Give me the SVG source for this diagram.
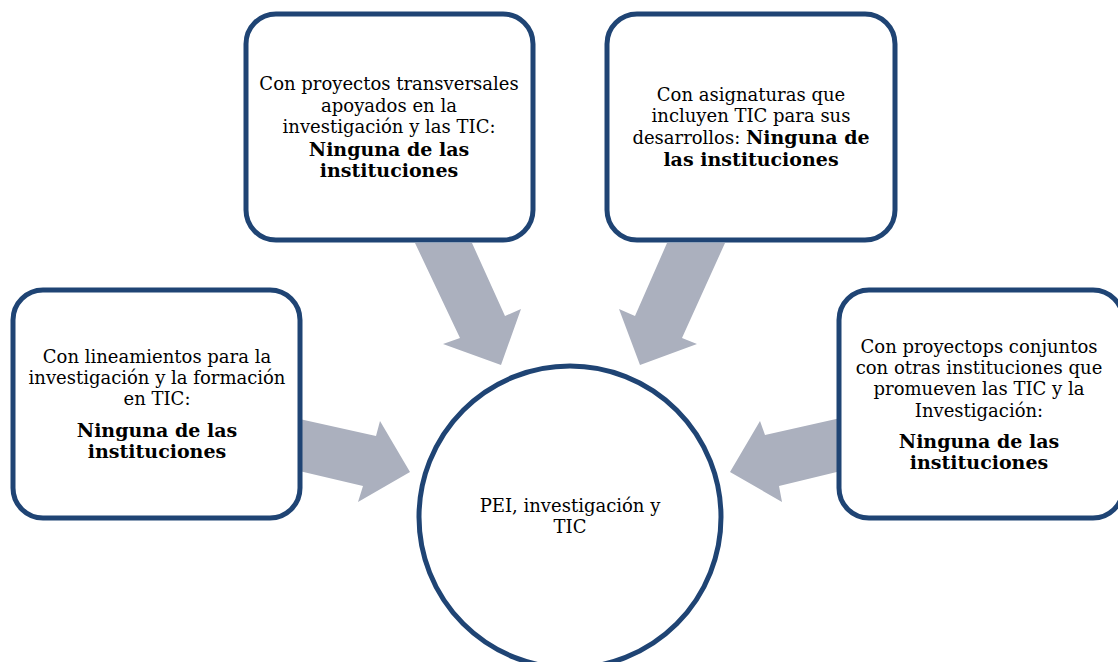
<svg xmlns="http://www.w3.org/2000/svg" width="1118" height="662" viewBox="0 0 1118 662">
<style>
.box{fill:#fff;stroke:#1f4474;stroke-width:5}
.arr{fill:#abb0be}
text{font-family:"DejaVu Serif","Liberation Serif",serif;font-size:18px;fill:#000;text-anchor:middle}
.b{font-weight:bold;font-size:19px}
</style>
<rect width="1118" height="662" fill="#fff"/>
<g id="connectors">
<polygon class="arr" points="415,243 472,243 505,316 521,309 501,365 443,344 460,338"/>
<polygon class="arr" points="725,243 667,243 635,316 619,309 640,365 697,344 682,338"/>
<polygon class="arr" points="295,418 376,436 380,421 410,472 358,502 363,486 295,470"/>
<polygon class="arr" points="845,417 765,435 760,421 730,472 782,502 779,486 845,470"/>
</g>
<g id="node-top-left">
<rect class="box" x="246" y="14" width="287" height="226" rx="30"/>
<text x="389" y="90">Con proyectos transversales</text>
<text x="389" y="112">apoyados en la</text>
<text x="389" y="133">investigación y las TIC:</text>
<text x="389" y="156" class="b">Ninguna de las</text>
<text x="389" y="177" class="b">instituciones</text>
</g>
<g id="node-top-right">
<rect class="box" x="607" y="14" width="288" height="226" rx="30"/>
<text x="751" y="101">Con asignaturas que</text>
<text x="751" y="122">incluyen TIC para sus</text>
<text x="751" y="144">desarrollos: <tspan class="b">Ninguna de</tspan></text>
<text x="751" y="166" class="b">las instituciones</text>
</g>
<g id="node-left">
<rect class="box" x="13" y="290" width="287" height="228" rx="30"/>
<text x="157" y="363">Con lineamientos para la</text>
<text x="157" y="384">investigación y la formación</text>
<text x="157" y="405">en TIC:</text>
<text x="157" y="437" class="b">Ninguna de las</text>
<text x="157" y="458" class="b">instituciones</text>
</g>
<g id="node-right">
<rect class="box" x="839" y="290" width="284" height="228" rx="30"/>
<text x="979" y="353">Con proyectops conjuntos</text>
<text x="979" y="374">con otras instituciones que</text>
<text x="979" y="395">promueven las TIC y la</text>
<text x="979" y="417">Investigación:</text>
<text x="979" y="448" class="b">Ninguna de las</text>
<text x="979" y="469" class="b">instituciones</text>
</g>
<g id="node-center">
<circle class="box" cx="570" cy="517" r="151"/>
<text x="570" y="512">PEI, investigación y</text>
<text x="570" y="533">TIC</text>
</g>
</svg>
